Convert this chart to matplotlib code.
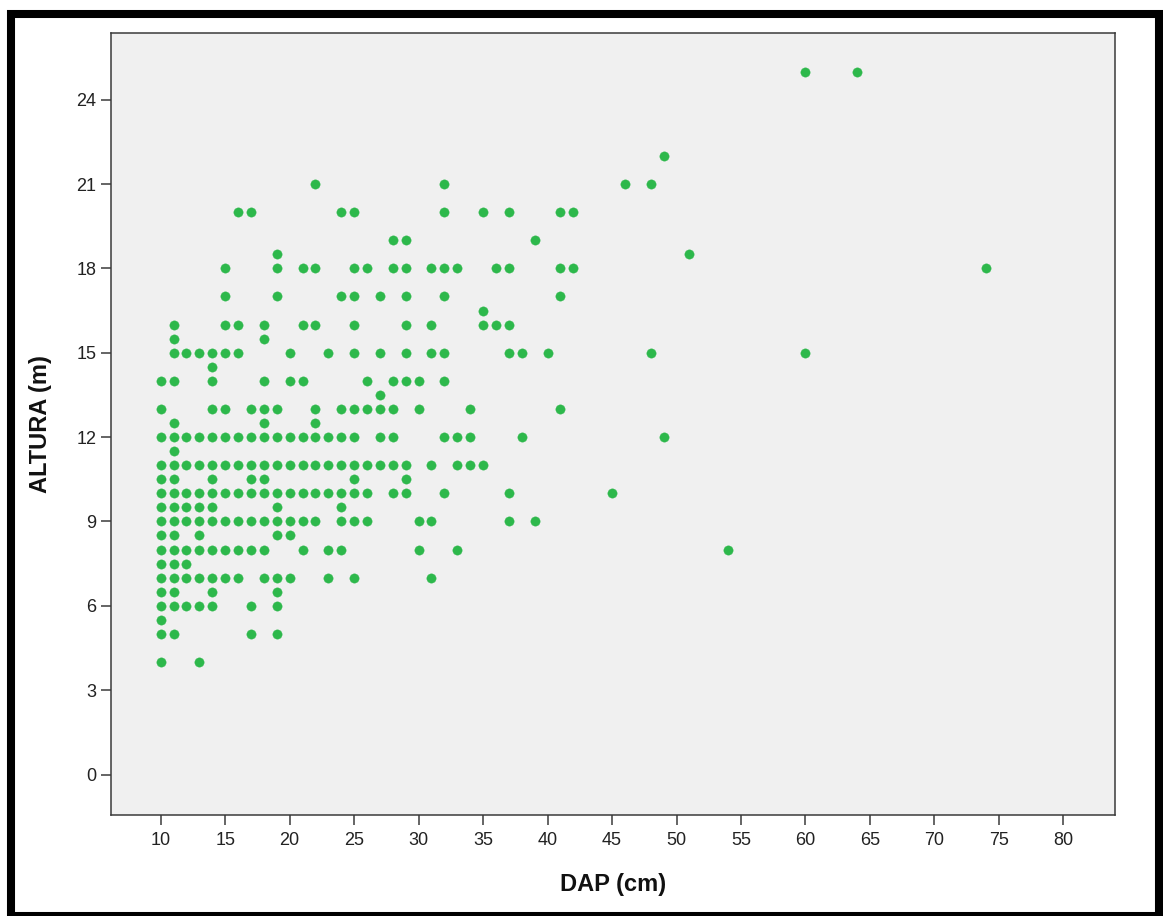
import matplotlib.pyplot as plt
from matplotlib.patches import Rectangle

plt.rcParams["font.family"] = ["Liberation Sans", "DejaVu Sans"]

# heights (m) and the DAP values (cm) recorded at each height
altura_levels = [25, 22, 21, 20, 19, 18.5, 18, 17, 16.5, 16, 15.5, 15, 14.5, 14,
                 13.5, 13, 12.5, 12, 11.5, 11, 10.5, 10, 9.5, 9, 8.5, 8, 7.5, 7,
                 6.5, 6, 5.5, 5, 4]

dap_at_level = [
    [60, 64],
    [49],
    [22, 32, 46, 48],
    [16, 17, 24, 25, 32, 35, 37, 41, 42],
    [28, 29, 39],
    [19, 51],
    [15, 19, 21, 22, 25, 26, 28, 29, 31, 32, 33, 36, 37, 41, 42, 74],
    [15, 19, 24, 25, 27, 29, 32, 41],
    [35],
    [11, 15, 16, 18, 21, 22, 25, 29, 31, 35, 36, 37],
    [11, 18],
    [11, 12, 13, 14, 15, 16, 20, 23, 25, 27, 29, 31, 32, 37, 38, 40, 48, 60],
    [14],
    [10, 11, 14, 18, 20, 21, 26, 28, 29, 30, 32],
    [27],
    [10, 14, 15, 17, 18, 19, 22, 24, 25, 26, 27, 28, 30, 34, 41],
    [11, 18, 22],
    [10, 11, 12, 13, 14, 15, 16, 17, 18, 19, 20, 21, 22, 23, 24, 25,
     27, 28, 32, 33, 34, 38, 49],
    [11],
    [10, 11, 12, 13, 14, 15, 16, 17, 18, 19, 20, 21, 22, 23, 24, 25, 26, 27,
     28, 29, 31, 33, 34, 35],
    [10, 11, 14, 17, 18, 25, 29],
    [10, 11, 12, 13, 14, 15, 16, 17, 18, 19, 20, 21, 22, 23, 24, 25, 26,
     28, 29, 32, 37, 45],
    [10, 11, 12, 13, 14, 19, 24],
    [10, 11, 12, 13, 14, 15, 16, 17, 18, 19, 20, 21, 22,
     24, 25, 26, 30, 31, 37, 39],
    [10, 11, 13, 19, 20],
    [10, 11, 12, 13, 14, 15, 16, 17, 18, 21, 23, 24, 30, 33, 54],
    [10, 11, 12],
    [10, 11, 12, 13, 14, 15, 16, 18, 19, 20, 23, 25, 31],
    [10, 11, 14, 19],
    [10, 11, 12, 13, 14, 17, 19],
    [10],
    [10, 11, 17, 19],
    [10, 13],
]

x_ticks = [10, 15, 20, 25, 30, 35, 40, 45, 50, 55, 60, 65, 70, 75, 80]
y_ticks = [0, 3, 6, 9, 12, 15, 18, 21, 24]

dap = []
altura = []
for h, row in zip(altura_levels, dap_at_level):
    for d in row:
        dap.append(d)
        altura.append(h)

W, H = 1163, 916
fig = plt.figure(figsize=(W / 100, H / 100), dpi=100)
fig.patch.set_facecolor("white")

ax = fig.add_axes([111 / W, 1 - 815 / H, (1115 - 111) / W, (815 - 33) / H])
ax.set_facecolor("#f0f0f0")

ax.plot(dap, altura, linestyle="none", marker="o", markersize=6.7,
        markerfacecolor="#2db84b", markeredgecolor="#2db84b", markeredgewidth=0.3)

ax.set_xlim(6.15, 84)
ax.set_ylim(-1.44, 26.37)
ax.set_xticks(x_ticks)
ax.set_yticks(y_ticks)

for s in ax.spines.values():
    s.set_color("#3a3a3a")
    s.set_linewidth(1.1)

ax.tick_params(axis="x", direction="out", length=7, width=1.1, color="#3a3a3a",
               pad=5, labelsize=13, labelcolor="#222222")
ax.tick_params(axis="y", direction="out", length=7, width=1.1, color="#3a3a3a",
               pad=3.5, labelsize=13, labelcolor="#222222")

ax.set_xlabel("DAP (cm)", fontsize=17, fontweight="bold", color="#111111")
ax.set_ylabel("ALTURA (m)", fontsize=17, fontweight="bold", color="#111111")
ax.xaxis.set_label_coords(0.5, -0.0742)
ax.yaxis.set_label_coords(-0.0588, 0.5)

# thick black frame around the whole picture
fig.add_artist(Rectangle((11 / W, 0), (1159 - 11) / W, 1 - 13.5 / H,
                         transform=fig.transFigure, fill=False,
                         edgecolor="black", linewidth=5.8))

fig.savefig("out.png", dpi=100)
